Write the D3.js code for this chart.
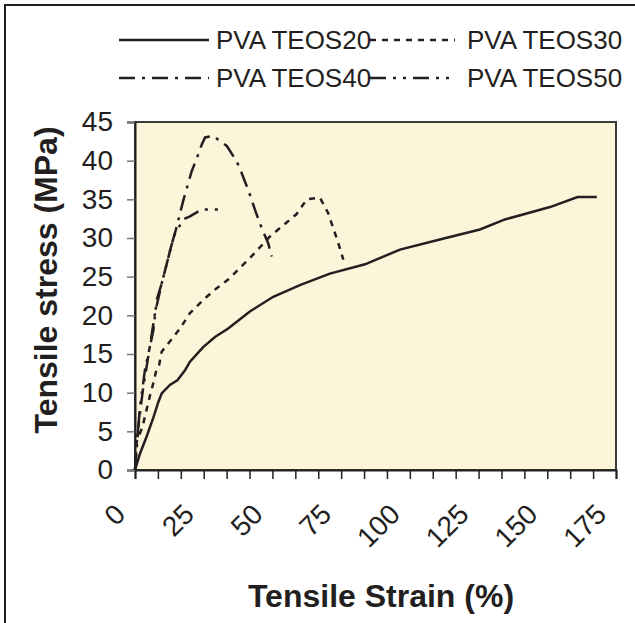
<!DOCTYPE html>
<html>
<head>
<meta charset="utf-8">
<script src="https://cdn.jsdelivr.net/npm/d3@7"></script>
<style>
  body { margin: 0; background: #fff; }
  svg text { font-family: "Liberation Sans", Arial, sans-serif; fill: #231f20; }
</style>
</head>
<body>
<div id="chart"></div>
<script>
// series names (legend order)
var seriesNames = ["PVA TEOS20", "PVA TEOS30", "PVA TEOS40", "PVA TEOS50"];

// tensile strain (%) / tensile stress (MPa)
var teos20Strain = [0, 1.8, 4.2, 6.7, 8.5, 9.7, 12.7, 15.4, 18.2, 20, 24.8, 29.1, 33.9, 41.8, 50.3, 60, 70.9, 83.7, 96.4, 110.9, 125.5, 134.6, 151, 161, 168];
var teos20Stress = [0, 2.1, 4.3, 6.8, 8.8, 9.9, 11.0, 11.6, 12.9, 14.0, 15.9, 17.2, 18.3, 20.5, 22.4, 23.9, 25.4, 26.6, 28.5, 29.8, 31.1, 32.4, 34.0, 35.3, 35.3];

var teos30Strain = [0, 0.6, 2.4, 3, 5.5, 6, 7.9, 8.8, 9.7, 13.1, 16.4, 20, 24.3, 26.1, 29.7, 33.8, 41.8, 49.1, 58.8, 62.5, 67.3, 70.3, 74, 75.8];
var teos30Stress = [0, 3.6, 5.3, 6.0, 9.7, 10.3, 13.1, 13.6, 15.3, 16.8, 18.3, 20.3, 21.8, 22.4, 23.5, 24.6, 27.4, 30.2, 33.1, 35.0, 35.2, 33.2, 29.3, 27.2];

var teos40Strain = [0, 1.2, 3.0, 4.8, 7.3, 9.7, 13.3, 15.2, 17.6, 20.6, 23, 24.3, 25.5, 28.5, 30.3, 33.4, 37, 38.8, 41.2, 44.3, 46.1, 48.5, 49.7];
var teos40Stress = [0, 5.6, 10.7, 14.6, 20.3, 24.1, 29.1, 31.5, 34.9, 38.6, 40.8, 42.1, 43.0, 43.2, 42.7, 41.9, 39.9, 38.4, 36.2, 33.0, 31.3, 29.3, 27.6];

var teos50Strain = [0, 0.4, 1.8, 3.6, 6.7, 7.9, 9.7, 13.3, 14.6, 17.6, 20, 24.3, 30.7];
var teos50Stress = [0, 2.1, 8.1, 12.9, 18.1, 22.0, 24.1, 29.1, 30.6, 32.4, 32.8, 33.7, 33.7];

var xLabels = [0, 25, 50, 75, 100, 125, 150, 175];
var yLabels = [0, 5, 10, 15, 20, 25, 30, 35, 40, 45];

var W = 635, H = 623;
var plotL = 135, plotR = 616, plotT = 122, plotB = 470;
var ink = "#231f20";

var svg = d3.select("#chart").append("svg")
    .attr("width", W)
    .attr("height", H);

// outer chart frame, runs off the right and bottom edge
svg.append("rect")
    .attr("x", 5).attr("y", 5)
    .attr("width", W + 20).attr("height", H + 20)
    .attr("fill", "#fff")
    .attr("stroke", ink)
    .attr("stroke-width", 2);

var x = d3.scaleLinear().domain([0, 175]).range([plotL, plotR]);
var y = d3.scaleLinear().domain([0, 45]).range([plotB, plotT]);

// plot area
svg.append("rect")
    .attr("x", plotL).attr("y", plotT)
    .attr("width", plotR - plotL).attr("height", plotB - plotT)
    .attr("fill", "#fcf5d9")
    .attr("stroke", "#3a3a3a")
    .attr("stroke-width", 2);

// x axis: minor ticks every 25/3, labels every 25
var xTicks = d3.range(0, 22).map(function(i) { return i * 25 / 3; });
var xAxis = svg.append("g")
    .attr("transform", "translate(0," + plotB + ")")
    .call(d3.axisBottom(x).tickValues(xTicks).tickSize(9).tickFormat(""));
xAxis.select(".domain").attr("stroke", ink).attr("stroke-width", 2);
xAxis.selectAll(".tick line").attr("stroke", ink).attr("stroke-width", 1.5);

svg.append("g").selectAll("text")
    .data(xLabels)
    .join("text")
    .attr("text-anchor", "end")
    .attr("font-size", 28)
    .attr("transform", function(d) {
        return "translate(" + (x(d) - 8) + "," + (plotB + 46) + ") rotate(-45)";
    })
    .text(function(d) { return d; });

// y axis
var yAxis = svg.append("g")
    .attr("transform", "translate(" + plotL + ",0)")
    .call(d3.axisLeft(y).tickValues(yLabels).tickSize(8).tickPadding(14));
yAxis.select(".domain").attr("stroke", ink).attr("stroke-width", 2);
yAxis.selectAll(".tick line").attr("stroke", "#777").attr("stroke-width", 1.5);
yAxis.selectAll(".tick text")
    .attr("font-size", 28)
    .attr("font-family", "'Liberation Sans', Arial, sans-serif")
    .attr("fill", ink);

// axis titles
svg.append("text")
    .attr("x", 381).attr("y", 607)
    .attr("text-anchor", "middle")
    .attr("font-size", 32)
    .attr("font-weight", "bold")
    .text("Tensile Strain (%)");

svg.append("text")
    .attr("transform", "translate(57,280) rotate(-90)")
    .attr("text-anchor", "middle")
    .attr("font-size", 32)
    .attr("font-weight", "bold")
    .text("Tensile stress (MPa)");

// series
var dashes = [null, "6,6", "16,7,3,7", "16,7,3,7,3,7"];
var series = [
    d3.zip(teos20Strain, teos20Stress),
    d3.zip(teos30Strain, teos30Stress),
    d3.zip(teos40Strain, teos40Stress),
    d3.zip(teos50Strain, teos50Stress)
];

var line = d3.line()
    .x(function(d) { return x(d[0]); })
    .y(function(d) { return y(d[1]); });

svg.append("g").selectAll("path")
    .data(series)
    .join("path")
    .attr("d", line)
    .attr("fill", "none")
    .attr("stroke", ink)
    .attr("stroke-width", 2.5)
    .attr("stroke-dasharray", function(d, i) { return dashes[i]; });

// legend, two rows of two
var legendPos = [[119, 40], [370, 40], [119, 78], [370, 78]];
var legend = svg.append("g").selectAll("g")
    .data(seriesNames)
    .join("g")
    .attr("transform", function(d, i) { return "translate(" + legendPos[i][0] + "," + legendPos[i][1] + ")"; });

legend.append("line")
    .attr("x1", 0).attr("x2", function(d, i) { return i % 2 ? 85 : 90; })
    .attr("y1", 0).attr("y2", 0)
    .attr("stroke", ink)
    .attr("stroke-width", 2.5)
    .attr("stroke-dasharray", function(d, i) { return dashes[i]; });

legend.append("text")
    .attr("x", 97)
    .attr("y", 9)
    .attr("font-size", 26)
    .text(function(d) { return d; });
</script>
</body>
</html>
